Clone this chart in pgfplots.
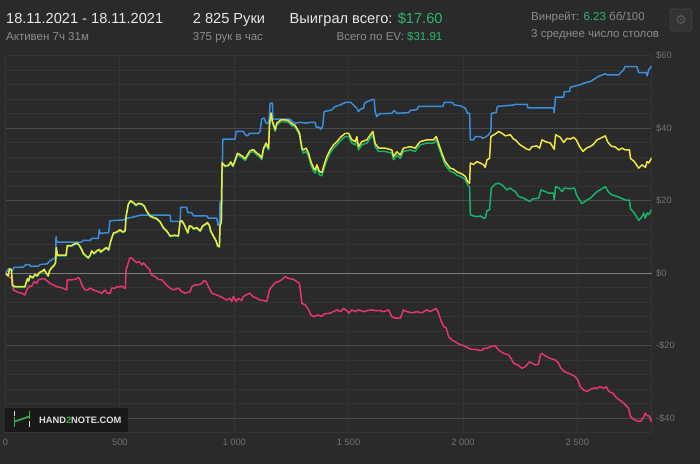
\documentclass[border=0pt]{standalone}
\usepackage{pgfplots}
\pgfplotsset{compat=1.18}
\usepackage{fontspec}
\setmainfont{Liberation Sans}
\newfontfamily\symfont{DejaVu Sans}

\definecolor{bg}{HTML}{2A2A2A}
\definecolor{gridminor}{HTML}{343434}
\definecolor{gridmajor}{HTML}{4A4A4A}
\definecolor{zeroline}{HTML}{7C7C7C}
\definecolor{ticklab}{HTML}{727272}
\definecolor{hdrwhite}{HTML}{E8E8E8}
\definecolor{hdrgray}{HTML}{8C8C8C}
\definecolor{hdrgreen}{HTML}{2DB872}
\definecolor{cblue}{HTML}{3A8EDC}
\definecolor{cyellow}{HTML}{F2E642}
\definecolor{cgreen}{HTML}{16B46A}
\definecolor{cpink}{HTML}{E4356C}
\definecolor{logogreen}{HTML}{35B04A}

\begin{document}
\begin{tikzpicture}[x=1bp,y=1bp]
\fill[bg] (0,0) rectangle (700,464);

\begin{axis}[
    at={(5.5bp,31.2bp)}, anchor=south west,
    scale only axis, width=646.2bp, height=377.1bp,
    xmin=0, xmax=2825, ymin=-44, ymax=60,
    axis line style={draw=gridminor, line width=0.8bp},
    major tick length=0pt, minor tick length=0pt,
    /pgf/number format/assume math mode=true,
    xtick={0,500,1000,1500,2000,2500},
    xticklabels={0,500,1 000,1 500,2 000,2 500},
    ytick={-40,-20,0,20,40,60},
    yticklabels={-\$40,-\$20,\$0,\$20,\$40,\$60},
    minor ytick={-44,-36,-32,-28,-24,-16,-12,-8,-4,4,8,12,16,24,28,32,36,44,48,52,56},
    xmajorgrids, ymajorgrids, yminorgrids,
    major x grid style={draw=gridminor, line width=0.8bp},
    major y grid style={draw=gridmajor, line width=1bp},
    minor y grid style={draw=gridminor, line width=0.8bp},
    extra y ticks={0}, extra y tick labels={},
    extra y tick style={major y grid style={draw=zeroline, line width=1.1bp}},
    yticklabel pos=right,
    tick label style={font=\fontsize{9.3bp}{11bp}\selectfont, text=ticklab},
    yticklabel style={anchor=west, inner sep=0pt, xshift=4.3bp},
    xticklabel style={anchor=north, inner sep=0pt, yshift=-6.5bp},
    every axis plot/.append style={line width=1.5bp, line join=round},
]
% non-showdown
\addplot[cpink] coordinates {
(0,0) (12,-0.7) (23,-1.4) (30,-1.0) (34,-4.6) (56,-5.3) (71,-5.5) (85,-6.0) (93,-4.6) (104,-3.5)
(114,-3.7) (125,-2.3) (136,-2.8) (144,-1.8) (158,-1.6) (168,-1.4) (180,-2.0) (195,-2.8) (209,-3.2) (224,-3.7)
(246,-4.0) (268,-4.6) (270,-1.8) (290,-1.8) (304,-1.7) (319,-1.2) (326,-1.8) (337,-3.7) (348,-4.6) (360,-4.6)
(370,-4.1) (384,-4.6) (406,-5.1) (421,-5.5) (435,-4.6) (445,-5.5) (458,-5.5) (464,-4.1) (480,-4.1) (486,-3.7)
(500,-3.8) (508,-3.5) (518,-4.1) (524,-4.1) (527,0.9) (544,4.3) (552,4.2) (559,3.7) (574,2.9) (585,3.2)
(596,2.3) (603,2.9) (617,1.8) (629,1.1) (639,-0.5) (654,-0.9) (668,-1.7) (683,-1.8) (698,-2.8) (705,-3.3)
(720,-4.1) (734,-4.6) (756,-4.1) (771,-5.1) (785,-5.5) (807,-5.1) (814,-3.7) (829,-3.2) (843,-3.2) (858,-2.8)
(868,-2.0) (877,-2.3) (887,-3.7) (902,-5.5) (924,-6.0) (946,-6.6) (967,-7.4) (982,-6.9) (989,-7.8) (997,-6.4)
(1008,-7.8) (1018,-6.9) (1033,-7.5) (1040,-6.4) (1052,-6.0) (1067,-5.5) (1081,-6.4) (1099,-6.9) (1113,-7.4) (1128,-7.5)
(1142,-7.8) (1154,-4.6) (1164,-3.7) (1179,-2.6) (1193,-2.3) (1208,-1.8) (1223,-0.9) (1237,-1.4) (1259,-1.7) (1274,-2.3)
(1285,-2.8) (1296,-8.3) (1310,-8.7) (1325,-10.1) (1335,-11.5) (1350,-12.0) (1365,-11.5) (1380,-11.9) (1395,-11.2) (1419,-11.0)
(1449,-10.1) (1464,-10.6) (1478,-9.7) (1492,-10.3) (1500,-11.0) (1514,-10.1) (1529,-10.6) (1543,-10.1) (1565,-10.6) (1580,-10.3)
(1602,-10.1) (1617,-10.3) (1638,-10.3) (1653,-10.6) (1675,-10.1) (1689,-12.0) (1704,-12.4) (1726,-12.4) (1740,-10.1) (1755,-10.6)
(1777,-10.9) (1798,-10.6) (1820,-10.9) (1842,-10.1) (1856,-10.6) (1871,-10.1) (1883,-9.7) (1893,-11.0) (1903,-12.9) (1915,-14.7)
(1927,-15.1) (1937,-17.5) (1952,-18.4) (1966,-18.9) (1981,-19.5) (1995,-19.8) (2010,-20.2) (2025,-20.7) (2039,-21.0) (2054,-21.0)
(2068,-21.2) (2083,-21.3) (2090,-20.7) (2105,-20.7) (2119,-20.3) (2141,-20.0) (2156,-21.2) (2178,-22.1) (2199,-22.5) (2210,-23.5)
(2221,-24.8) (2239,-25.3) (2258,-26.2) (2272,-25.8) (2291,-24.4) (2301,-24.8) (2316,-25.3) (2330,-25.1) (2338,-22.5) (2345,-22.1)
(2360,-22.8) (2382,-23.5) (2403,-23.9) (2418,-24.8) (2428,-26.2) (2443,-27.1) (2462,-27.6) (2476,-28.0) (2491,-28.5) (2501,-29.4)
(2513,-31.3) (2527,-32.2) (2542,-32.6) (2557,-32.0) (2571,-31.7) (2586,-31.7) (2600,-31.3) (2615,-31.7) (2627,-31.3) (2637,-32.6)
(2656,-33.1) (2666,-34.0) (2681,-34.8) (2695,-35.4) (2710,-36.3) (2724,-37.2) (2732,-39.5) (2746,-40.3) (2761,-40.7) (2775,-40.9)
(2787,-40.0) (2797,-38.6) (2805,-39.3) (2816,-39.4) (2822,-40.9) (2825,-40.0)
};
% showdown
\addplot[cblue] coordinates {
(0,0) (12,1.1) (24,1.1) (28,0.5) (37,1.6) (78,1.7) (87,2.3) (104,2.4) (110,1.9) (145,2.0)
(151,2.4) (183,2.6) (192,3.3) (203,3.7) (214,4.2) (219,4.6) (221,10.1) (224,8.6) (333,8.6) (340,9.1)
(372,9.1) (377,9.6) (406,9.6) (410,12.0) (413,11.0) (451,11.2) (457,14.5) (518,14.7) (527,15.1) (559,15.5)
(588,16.0) (720,16.0) (722,14.3) (763,14.3) (766,18.2) (792,18.2) (797,16.7) (814,16.7) (822,15.8) (880,15.8)
(887,15.2) (924,15.2) (928,13.3) (935,13.3) (938,19.8) (941,13.5) (944,13.8) (950,37.0) (1004,37.0) (1008,39.1)
(1040,39.1) (1048,38.2) (1058,37.9) (1067,38.6) (1106,38.6) (1113,39.1) (1120,42.5) (1131,42.8) (1139,41.4) (1151,41.4)
(1157,46.9) (1167,46.9) (1169,42.5) (1244,42.5) (1253,41.8) (1266,41.4) (1288,41.6) (1317,41.4) (1329,41.6) (1354,41.6)
(1358,40.3) (1370,40.3) (1379,39.7) (1387,40.7) (1393,44.6) (1419,44.9) (1427,45.1) (1441,46.0) (1463,46.4) (1485,47.1)
(1510,47.1) (1524,46.2) (1536,45.5) (1543,44.6) (1551,45.2) (1565,45.5) (1570,46.9) (1583,47.4) (1594,47.6) (1606,48.0)
(1612,47.8) (1616,44.6) (1623,43.2) (1635,44.0) (1689,44.1) (1699,44.9) (1711,44.1) (1762,44.3) (1769,44.9) (1798,45.1)
(1806,46.0) (1912,46.0) (1918,47.1) (1952,47.1) (1962,46.4) (1988,46.2) (2010,45.5) (2020,44.1) (2029,44.1) (2032,36.8)
(2046,36.8) (2054,37.7) (2076,37.7) (2087,37.2) (2102,37.7) (2112,38.2) (2122,39.1) (2124,44.1) (2145,44.3) (2150,46.0)
(2221,46.4) (2225,46.6) (2280,46.6) (2284,45.6) (2396,45.6) (2399,44.3) (2404,48.6) (2440,48.6) (2443,50.1) (2466,50.1)
(2469,51.3) (2513,52.0) (2527,52.4) (2557,52.9) (2593,54.3) (2622,55.0) (2630,54.7) (2680,54.7) (2702,56.1) (2708,57.0)
(2761,57.0) (2768,55.3) (2802,55.3) (2805,54.4) (2812,56.1) (2822,57.0) (2825,57.0)
};
% net won
\addplot[cgreen] coordinates {
(0,0) (12,-0.9) (17,1.1) (26,0.7) (30,-3.5) (42,-3.9) (85,-3.9) (90,-2.8) (96,-1.7) (101,-2.3)
(107,-0.9) (119,-1.4) (129,-0.5) (139,-0.9) (148,0.0) (163,0.5) (169,0.9) (177,0.0) (187,-0.9) (192,0.5)
(202,1.4) (212,2.0) (219,2.8) (222,6.9) (227,4.8) (265,4.8) (270,7.4) (289,7.4) (297,7.8) (314,8.1)
(323,7.5) (333,6.4) (340,5.3) (352,4.6) (362,4.1) (370,4.8) (377,6.0) (387,5.3) (399,6.0) (410,6.4)
(416,5.7) (428,6.3) (440,6.9) (451,6.3) (460,8.7) (472,10.9) (486,11.2) (501,11.8) (512,11.2) (523,11.5)
(527,15.5) (537,18.9) (547,19.8) (559,19.3) (571,18.6) (581,19.1) (596,18.9) (606,18.4) (617,17.0) (632,15.6)
(647,15.2) (661,14.9) (676,14.0) (690,12.4) (705,11.5) (720,10.1) (741,10.3) (756,10.1) (763,14.0) (771,14.3)
(781,13.3) (790,12.0) (797,11.0) (804,12.9) (814,12.7) (822,12.1) (836,12.4) (851,11.5) (862,12.9) (873,13.3)
(883,13.8) (892,12.9) (897,11.5) (909,10.1) (921,8.7) (927,7.4) (935,7.2) (938,13.1) (943,13.8) (947,30.3)
(960,29.4) (975,29.6) (985,30.5) (994,29.4) (1004,30.8) (1014,32.6) (1026,32.2) (1037,31.7) (1048,31.1) (1058,32.2)
(1069,33.3) (1084,33.6) (1099,32.6) (1110,32.2) (1120,31.3) (1128,34.0) (1139,35.4) (1150,34.0) (1154,40.5) (1161,43.7)
(1167,41.4) (1179,39.1) (1186,40.9) (1204,41.8) (1223,41.8) (1237,41.6) (1252,40.7) (1266,40.3) (1277,39.1) (1285,38.2)
(1296,34.0) (1303,33.1) (1314,33.6) (1325,32.2) (1335,29.9) (1347,28.1) (1354,27.6) (1361,29.0) (1373,27.1) (1383,26.9)
(1393,29.0) (1405,31.3) (1419,33.1) (1434,34.5) (1449,35.4) (1463,36.5) (1485,37.7) (1500,37.7) (1514,35.9) (1529,35.4)
(1536,36.8) (1543,34.0) (1558,35.4) (1580,35.9) (1594,37.2) (1606,38.2) (1616,34.9) (1631,33.6) (1660,33.6) (1689,33.1)
(1696,31.3) (1711,32.6) (1726,31.7) (1740,33.6) (1769,34.0) (1791,33.6) (1801,34.5) (1813,35.4) (1842,35.9) (1871,35.9)
(1883,36.8) (1893,34.9) (1908,32.2) (1922,29.9) (1933,29.0) (1944,28.1) (1959,27.8) (1973,27.1) (1995,26.5) (2010,25.8)
(2020,24.4) (2029,23.9) (2032,16.1) (2046,15.8) (2061,15.6) (2076,15.8) (2090,15.2) (2097,15.2) (2105,17.3) (2116,17.5)
(2124,23.5) (2141,24.6) (2156,24.8) (2170,24.4) (2192,23.0) (2207,23.5) (2221,22.8) (2229,22.5) (2243,21.2) (2265,20.7)
(2280,20.2) (2291,19.8) (2305,20.5) (2331,20.7) (2341,23.0) (2360,22.5) (2374,22.1) (2396,22.1) (2399,20.2) (2405,23.9)
(2420,23.5) (2433,22.5) (2443,23.5) (2469,23.3) (2487,23.5) (2498,21.4) (2520,19.2) (2542,20.2) (2557,20.7) (2571,21.6)
(2586,22.5) (2600,23.0) (2622,23.9) (2637,22.3) (2651,21.6) (2673,21.2) (2691,20.7) (2710,20.2) (2728,20.2) (2732,17.8)
(2749,16.6) (2768,14.6) (2783,15.6) (2790,16.6) (2797,15.2) (2805,16.6) (2812,16.2) (2822,17.3) (2825,17.6)
};
% all-in EV
\addplot[cyellow] coordinates {
(0,0) (12,-0.7) (17,1.3) (26,0.9) (30,-3.3) (42,-3.7) (85,-3.7) (90,-2.6) (96,-1.5) (101,-2.1)
(107,-0.7) (119,-1.2) (129,-0.3) (139,-0.7) (148,0.2) (163,0.7) (169,1.1) (177,0.2) (187,-0.7) (192,0.7)
(202,1.6) (212,2.2) (219,3.0) (222,7.1) (227,5.0) (265,5.0) (270,7.6) (289,7.6) (297,8.0) (314,8.3)
(323,7.7) (333,6.6) (340,5.5) (352,4.8) (362,4.3) (370,5.0) (377,6.2) (387,5.5) (399,6.2) (410,6.6)
(416,5.9) (428,6.5) (440,7.1) (451,6.5) (460,8.9) (472,11.1) (486,11.4) (501,12.0) (512,11.4) (523,11.7)
(527,15.7) (537,19.1) (547,20.0) (559,19.5) (571,18.8) (581,19.3) (596,19.1) (606,18.6) (617,17.2) (632,15.8)
(647,15.4) (661,15.1) (676,14.2) (690,12.6) (705,11.7) (720,10.3) (741,10.5) (756,10.3) (763,14.2) (771,14.5)
(781,13.5) (790,12.2) (797,11.2) (804,13.1) (814,12.9) (822,12.3) (836,12.6) (851,11.7) (862,13.1) (873,13.5)
(883,14.0) (892,13.1) (897,11.7) (909,10.3) (921,8.9) (927,7.6) (935,7.4) (938,13.3) (943,14.0) (947,30.5)
(960,29.6) (975,29.8) (985,30.7) (994,29.6) (1004,31.3) (1014,33.1) (1026,32.7) (1037,32.2) (1048,31.6) (1058,32.7)
(1069,33.8) (1084,34.1) (1099,33.1) (1110,32.7) (1120,31.8) (1128,34.5) (1139,35.9) (1150,34.5) (1154,41.0) (1161,44.2)
(1167,41.9) (1179,39.6) (1186,41.4) (1204,42.3) (1223,42.3) (1237,42.1) (1252,41.2) (1266,40.8) (1277,39.6) (1285,38.7)
(1296,34.5) (1303,34.0) (1314,34.5) (1325,33.1) (1335,30.8) (1347,29.0) (1354,28.5) (1361,29.9) (1373,28.0) (1383,27.8)
(1393,29.9) (1405,32.2) (1419,34.0) (1434,35.4) (1449,36.3) (1463,37.4) (1485,38.6) (1500,38.6) (1514,36.8) (1529,36.3)
(1536,37.7) (1543,34.9) (1558,36.3) (1580,36.8) (1594,38.1) (1606,39.1) (1616,35.8) (1631,34.5) (1660,34.5) (1689,34.0)
(1696,32.2) (1711,33.5) (1726,32.6) (1740,34.5) (1769,34.9) (1791,34.5) (1801,35.4) (1813,36.3) (1842,36.8) (1871,36.8)
(1883,37.7) (1893,35.8) (1908,33.1) (1922,30.8) (1933,29.9) (1944,29.0) (1959,28.7) (1973,28.0) (1995,27.4) (2010,26.7)
(2020,25.3) (2029,24.8) (2032,30.4) (2046,30.0) (2061,30.8) (2075,30.4) (2090,29.9) (2097,29.2) (2105,31.3) (2116,31.7)
(2122,37.7) (2141,38.4) (2156,39.1) (2170,38.6) (2185,37.9) (2207,38.2) (2221,37.0) (2229,36.8) (2239,36.1) (2250,35.4)
(2265,34.8) (2280,34.2) (2291,34.0) (2301,34.9) (2323,35.1) (2335,34.5) (2345,36.8) (2360,36.3) (2382,35.9) (2393,34.8)
(2399,34.2) (2405,38.2) (2425,37.5) (2440,36.1) (2455,37.2) (2469,37.0) (2484,37.5) (2495,36.8) (2510,34.9) (2525,33.6)
(2539,34.5) (2554,34.9) (2568,35.4) (2586,36.8) (2600,37.2) (2622,37.9) (2632,36.3) (2647,35.1) (2666,34.8) (2681,34.0)
(2695,34.5) (2710,34.0) (2728,34.0) (2732,31.7) (2749,30.8) (2768,29.0) (2783,29.9) (2797,29.2) (2805,30.8) (2812,30.4)
(2822,31.5) (2825,31.9)
};
\end{axis}

% header
\node[anchor=base west, inner sep=0pt, text=hdrwhite, font=\fontsize{14.6bp}{18bp}\selectfont] at (6,440) {18.11.2021 - 18.11.2021};
\node[anchor=base west, inner sep=0pt, text=hdrgray, font=\fontsize{11.5bp}{14bp}\selectfont] at (6,423.3) {Активен 7ч 31м};
\node[anchor=base west, inner sep=0pt, text=hdrwhite, font=\fontsize{14.6bp}{18bp}\selectfont] at (192.7,440) {2 825 Руки};
\node[anchor=base west, inner sep=0pt, text=hdrgray, font=\fontsize{11.5bp}{14bp}\selectfont] at (192.7,423.3) {375 рук в час};
\node[anchor=base east, inner sep=0pt, text=hdrwhite, font=\fontsize{14.6bp}{18bp}\selectfont] at (442.7,440) {Выиграл всего: \textcolor{hdrgreen}{\$17.60}};
\node[anchor=base east, inner sep=0pt, text=hdrgray, font=\fontsize{11.5bp}{14bp}\selectfont] at (442.5,423.3) {Всего по EV: \textcolor{hdrgreen}{\$31.91}};
\node[anchor=base west, inner sep=0pt, text=hdrgray, font=\fontsize{11.5bp}{14bp}\selectfont] at (531,443.3) {Винрейт: \textcolor{hdrgreen}{6.23} бб/100};
\node[anchor=base west, inner sep=0pt, text=hdrgray, font=\fontsize{11.5bp}{14bp}\selectfont] at (531,426.7) {3 среднее число столов};

% settings button
\draw[rounded corners=3bp, draw=gridmajor!80!bg, fill=bg!96!white, line width=0.8bp] (670,433) rectangle (692,455);
\node[inner sep=0pt, text=gridmajor!90!white, font=\symfont\fontsize{13bp}{13bp}\selectfont] at (681,444) {⚙};

% watermark
\fill[fill=black!40!bg] (5,32) rectangle (128,56);
\draw[white!85!bg, line width=1.6bp] (14.5,53) -- (14.5,47.5);
\draw[logogreen, line width=1.6bp] (14.5,46.5) -- (14.5,37);
\draw[logogreen, line width=1.6bp] (14.5,42.5) -- (29.5,47.5);
\draw[logogreen, line width=1.6bp] (29.5,53) -- (29.5,45);
\draw[white!85!bg, line width=1.6bp] (29.5,42.5) -- (29.5,37);
\node[anchor=base west, inner sep=0pt, text=white!85!bg, font=\bfseries\fontsize{9.3bp}{11bp}\selectfont] at (39,40.7) {HAND\textcolor{logogreen}{2}NOTE.COM};

\pgfresetboundingbox
\path[use as bounding box] (0,0) rectangle (700,464);
\end{tikzpicture}
\end{document}
